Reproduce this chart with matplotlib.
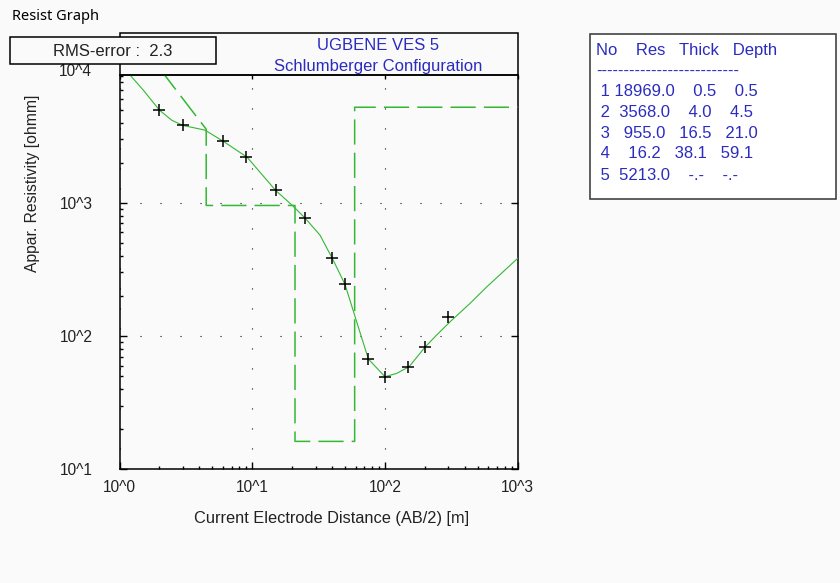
import numpy as np
import matplotlib
matplotlib.use("Agg")
import matplotlib.pyplot as plt
import matplotlib.patches as mpatches
from matplotlib.ticker import FixedLocator, NullFormatter

# field data: AB/2 [m] and apparent resistivity [ohmm]
ab2 = [2, 3, 6, 9, 15, 25, 40, 50, 75, 100, 150, 200, 300]
rho_obs = [4960, 3810, 2890, 2200, 1240, 770, 383, 244, 67.2, 49.5, 58.9, 83.1, 140]

# calculated curve of the layer model
ab2_calc = [1.0, 1.2, 1.51, 2.0, 2.47, 2.99, 4.41, 6.06, 9.14, 15.0, 20.2, 25.0, 32.4,
            40.1, 50.0, 59.5, 75.0, 100, 122.7, 152, 201.6, 245.7, 309.5, 437.9, 585, 1000]
rho_calc = [11200, 9100, 7010, 4960, 4170, 3810, 3510, 2890, 2200, 1240, 949, 768, 572,
            383, 244, 140, 67.2, 49.5, 52.5, 58.9, 83.1, 102, 128, 176, 234, 383]

# layer model
layer_res = [18969.0, 3568.0, 955.0, 16.2, 5213.0]
layer_thick = [0.5, 4.0, 16.5, 38.1]
layer_depth = [0.5, 4.5, 21.0, 59.1]

rms_error = 2.3
title_lines = ["UGBENE VES 5", "Schlumberger Configuration"]
x_ticks = [1, 10, 100, 1000]
x_tick_labels = ["10^0", "10^1", "10^2", "10^3"]
y_ticks = [10, 100, 1000]
y_tick_labels = ["10^1", "10^2", "10^3"]

W, H = 840, 583
BG = "#fafafa"
GREEN = "#33b833"
BLUE = "#2b2bc0"
FONT = "Liberation Sans"


def fx(px):
    return px / W


def fy(py):
    return 1 - py / H


def main():
    plt.rcParams['font.family'] = [FONT, 'DejaVu Sans']
    fig = plt.figure(figsize=(W / 100, H / 100), dpi=100, facecolor=BG)

    ax = fig.add_axes([fx(119.5), fy(469.3), (517.7 - 119.5) / W, (469.3 - 75) / H])
    ax.set_facecolor(BG)
    ax.set_xscale('log')
    ax.set_yscale('log')
    ax.set_xlim(1, 1000)
    ax.set_ylim(10, 9100)

    # model as step line (the program clips the first segment in linear x)
    top = 1e4
    t = (np.log10(layer_res[0]) - np.log10(top)) / (np.log10(layer_res[0]) - np.log10(layer_res[1]))
    x_clip = layer_depth[0] + t * (layer_depth[1] - layer_depth[0])
    mx = [x_clip, layer_depth[1], layer_depth[1], layer_depth[2], layer_depth[2],
          layer_depth[3], layer_depth[3], 1000]
    my = [top, layer_res[1], layer_res[2], layer_res[2], layer_res[3],
          layer_res[3], layer_res[4], layer_res[4]]
    ax.plot(mx, my, color=GREEN, lw=1.1, dashes=(16.5, 5.3), zorder=3)

    ax.plot(ab2_calc, rho_calc, color=GREEN, lw=0.8, zorder=4)
    ax.plot(ab2, rho_obs, '+', color='black', ms=8, mew=1.1, zorder=5)

    # axes, ticks, grid
    for s in ax.spines.values():
        s.set_linewidth(1.1)
    ax.xaxis.set_major_locator(FixedLocator(x_ticks))
    ax.set_xticklabels(x_tick_labels)
    ax.yaxis.set_major_locator(FixedLocator(y_ticks))
    ax.set_yticklabels(y_tick_labels)
    ax.xaxis.set_minor_formatter(NullFormatter())
    ax.yaxis.set_minor_formatter(NullFormatter())
    ax.tick_params(which='both', direction='in', top=True, right=True, colors='black',
                   labelcolor='#222222', labelsize=11.2)
    ax.tick_params(which='major', length=5.2, width=1.0)
    ax.tick_params(which='minor', length=2.2, width=1.0, top=False, right=False)
    ax.tick_params(axis='x', pad=8)
    ax.tick_params(axis='y', pad=19.5)
    for tk in ax.xaxis.get_major_ticks():
        tk.tick2line.set_markersize(3)
    ax.grid(True, which='major', color='#111111', linestyle=(0, (1, 17)), linewidth=0.8)

    ax.text(-27.5 / (517.7 - 119.5), 1e4, "10^4", transform=ax.get_yaxis_transform(),
            ha='right', va='center_baseline', fontsize=11.2, color='#222222', clip_on=False)

    fig.text(fx(332), fy(519), "Current Electrode Distance (AB/2) [m]", ha='center', va='center',
             fontsize=11.8, color='#222222')
    fig.text(fx(33), fy(183), "Appar. Resistivity [ohmm]", ha='center', va='center',
             rotation=90, fontsize=11.3, color='#222222')

    # title box above the plot
    fig.add_artist(mpatches.Rectangle((fx(119.5), fy(75)), (517.7 - 119.5) / W, (75 - 33.3) / H,
                                      transform=fig.transFigure, fill=False,
                                      edgecolor='black', lw=1.1))
    fig.text(fx(378), fy(46), title_lines[0], ha='center', va='center', fontsize=12, color=BLUE)
    fig.text(fx(378), fy(66), title_lines[1], ha='center', va='center', fontsize=12, color=BLUE)

    # RMS error box
    fig.add_artist(mpatches.Rectangle((fx(10), fy(64)), (216 - 10) / W, (64 - 37) / H,
                                      transform=fig.transFigure, facecolor=BG,
                                      edgecolor='black', lw=1.1, zorder=2))
    fig.text(fx(113), fy(51), "RMS-error :  %.1f" % rms_error, ha='center', va='center',
             fontsize=12, color='#222222', zorder=3)

    # window caption
    fig.text(fx(12), fy(16), "Resist Graph", ha='left', va='center', fontsize=10.5,
             family=['Noto Sans', 'DejaVu Sans'], color='black')

    # layer table
    fig.add_artist(mpatches.Rectangle((fx(590), fy(199)), (836 - 590) / W, (199 - 34) / H,
                                      transform=fig.transFigure, facecolor='white',
                                      edgecolor='#333333', lw=1.1, zorder=2))
    rows = ["No    Res   Thick   Depth", "-" * 26]
    for i, r in enumerate(layer_res):
        if i < len(layer_thick):
            th = "%6.1f" % layer_thick[i]
            de = "%6.1f" % layer_depth[i]
        else:
            th = "%6s" % "-.-"
            de = "%6s" % "-.-"
        rows.append("%2d %7.1f %s %s" % (i + 1, r, th, de))
    row_y = [50, 71, 91.7, 112.3, 133.3, 154, 175]
    for txt, yy in zip(rows, row_y):
        fig.text(fx(596), fy(yy), txt, ha='left', va='center', fontsize=12, color=BLUE, zorder=3)

    fig.savefig("out.png", dpi=100, facecolor=BG)


if __name__ == "__main__":
    main()
